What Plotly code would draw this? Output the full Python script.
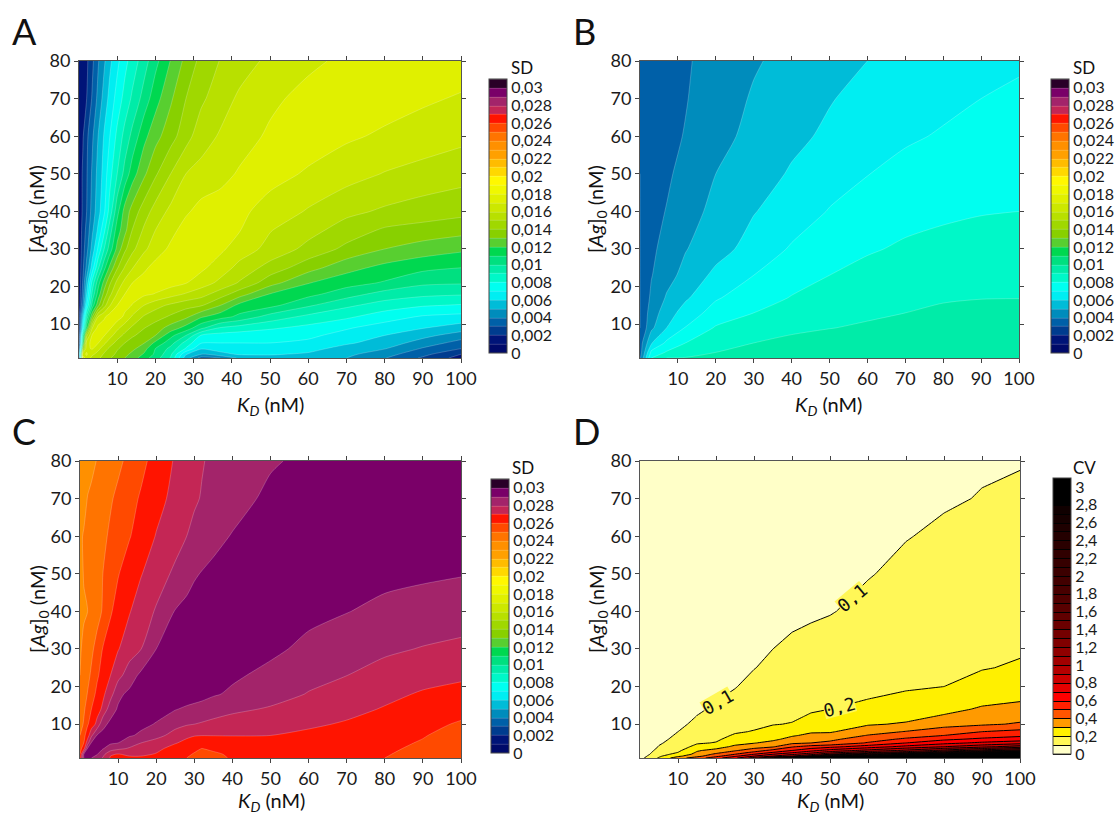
import plotly.graph_objects as go

W, H = 1115, 816
FONT = "Lato"

# ---- shared band palettes (one colour per band, bottom to top) ----
SD_COLORS = ["#000a6a", "#001478", "#003c8f", "#0060a8", "#008cbc", "#00bcd8", "#00eef2", "#00fff0",
             "#00f8c8", "#00eca8", "#00e080", "#00d850", "#58cf30", "#88d000", "#a0d800", "#b8e000",
             "#cce800", "#e0f000", "#f0f800", "#fff800", "#ffd800", "#ffbc00", "#ffa000", "#ff9000",
             "#ff7400", "#ff4a00", "#ff1400", "#c42655", "#a3246a", "#7a0068", "#2a0028"]
CV_COLORS = ["#ffffc8", "#fff757", "#fff000", "#ff9a00", "#ff5500", "#ff2000", "#ff0000", "#e60000",
             "#cc0000", "#b40000", "#a20000", "#900000", "#800000", "#740000", "#6a0000", "#600000",
             "#580000", "#500000", "#480000", "#420000", "#3c0000", "#360000", "#300000", "#2a0000",
             "#240000", "#1e0000", "#160000", "#100000", "#000000", "#000000", "#000000"]

SD_TICKS = [0, 2, 4, 6, 8, 10, 12, 14, 16, 18, 20, 22, 24, 26, 28, 30]
SD_LABELS = ["0", "0,002", "0,004", "0,006", "0,008", "0,01", "0,012", "0,014", "0,016", "0,018",
             "0,02", "0,022", "0,024", "0,026", "0,028", "0,03"]
CV_TICKS = [0, 0.2, 0.4, 0.6, 0.8, 1, 1.2, 1.4, 1.6, 1.8, 2, 2.2, 2.4, 2.6, 2.8, 3]
CV_LABELS = ["0", "0,2", "0,4", "0,6", "0,8", "1", "1,2", "1,4", "1,6", "1,8", "2", "2,2", "2,4", "2,6", "2,8", "3"]
X_TICKS = [10, 20, 30, 40, 50, 60, 70, 80, 90, 100]
Y_TICKS = [10, 20, 30, 40, 50, 60, 70, 80]

# ---- panel A: SD (in units of 0.001) ----
KD_A = [0, 1, 2, 3.5, 5, 6.5, 8, 10, 12, 14, 17, 20, 24, 28, 32, 37, 42, 50, 60, 70, 80, 90, 100]
AG_A = [1, 2, 3.5, 5, 7, 9, 12, 15, 18, 21, 25, 30, 35, 40, 50, 60, 70, 80]
SD_A = [
    [2, 17.3, 16.8, 15.6, 15.2, 14.65, 14.1, 13.5, 13, 12.5, 11.4, 10.5, 8.9, 5.45, 3.6, 4, 5.2, 5.6, 5.4, 5, 4.05, 2.85, 1.6],
    [4, 16.7, 17.1, 16.2, 15.6, 14.9, 14.4, 13.8, 13.3, 12.7, 11.9, 10.8, 9.2, 6.1, 4.95, 5.7, 6.1, 6.1, 5.85, 5.25, 4.4, 3.3, 2],
    [2.5, 13.5, 16.8, 17.1, 16.3, 15.5, 14.8, 14.1, 13.65, 13.25, 12.4, 11, 9.7, 7.9, 6.1, 6.4, 6.5, 6.55, 6.35, 5.6, 5.05, 3.9, 3],
    [1.9, 11, 16.5, 17.4, 17.05, 16.25, 15.5, 14.65, 14, 13.5, 13.05, 11.75, 10.4, 8.6, 7.05, 7, 7, 7, 6.8, 6.15, 5.55, 4.55, 3.6],
    [1.8, 9.5, 14.8, 17.2, 17.4, 17.1, 16.4, 15.45, 14.75, 14.15, 13.55, 13, 11.3, 10, 7.9, 7.6, 7.5, 7.35, 7.2, 6.65, 6, 5.3, 4.5],
    [1.7, 7, 11.5, 16, 17.3, 17.5, 17.2, 16.25, 15.45, 14.8, 14.05, 13.5, 12.6, 11.6, 10.25, 8.9, 8.55, 8.15, 7.7, 7.1, 6.55, 6.05, 5.5],
    [1.7, 5.6, 9.25, 13, 16.05, 16.8, 17.4, 17.5, 16.8, 15.85, 14.9, 14.45, 13.85, 13.25, 12.15, 11.45, 10.75, 9.6, 8.75, 8.2, 7.45, 6.9, 6.7],
    [1.3, 4, 7, 10.45, 12.7, 14.5, 15.9, 17, 17.3, 16.95, 16, 15.35, 14.8, 14.35, 14.1, 13, 11.7, 11.3, 10.15, 9.2, 8.55, 8.1, 7.9],
    [1.3, 3.4, 6, 9.3, 11.4, 13.3, 14.7, 16.1, 17, 17.3, 17.2, 16.95, 16.4, 15.9, 15.4, 14.5, 13.45, 11.95, 11.3, 10.45, 9.6, 9.25, 9.1],
    [1.3, 3.1, 5.35, 8.4, 10.55, 12.3, 13.8, 15.3, 16.3, 17, 17.4, 17.5, 17.4, 17.05, 16.5, 15.75, 14.9, 13.4, 12.05, 11.4, 10.9, 10.2, 10.1],
    [1.3, 2.75, 4.3, 6.55, 8.8, 10.6, 12.2, 13.9, 15.1, 15.95, 16.8, 17.35, 17.6, 17.55, 17.2, 16.5, 15.7, 14.6, 13.4, 12.35, 11.7, 11.25, 11],
    [1.2, 2.55, 3.65, 5.45, 7.15, 8.9, 10.4, 12.3, 13.8, 14.75, 15.8, 16.5, 17.2, 17.6, 17.5, 17.2, 16.5, 15.7, 14.7, 13.75, 13, 12.55, 12.2],
    [1.2, 2.4, 3.3, 4.85, 6.2, 7.65, 9.45, 11.5, 12.7, 14.05, 15.15, 16, 16.7, 17.4, 17.5, 17.4, 17.05, 16.05, 15.35, 14.55, 13.85, 13.6, 13.35],
    [1.2, 2.2, 3, 4.45, 5.6, 6.75, 8.35, 10.65, 12.4, 13.4, 14.5, 15.4, 16.25, 16.85, 17.35, 17.45, 17.2, 16.65, 15.9, 15.25, 14.85, 14.55, 14.3],
    [1.3, 2.15, 2.9, 4.2, 5.35, 6.35, 7.6, 9, 10.35, 11.55, 12.8, 13.85, 15, 16, 16.3, 16.7, 17.1, 17.3, 16.9, 16.4, 15.95, 15.65, 15.4],
    [1.3, 1.9, 2.75, 3.85, 5, 6.05, 6.95, 8.25, 9.35, 10.3, 11.7, 12.65, 13.6, 14.6, 15.6, 16.1, 16.6, 17.15, 17.4, 17.15, 16.85, 16.55, 16.25],
    [1.3, 1.6, 2, 3.15, 4.3, 5.35, 6.3, 7.4, 8.35, 9.2, 10.4, 11.6, 12.85, 14, 14.8, 15.6, 16.15, 16.8, 17.3, 17.5, 17.4, 17.15, 16.9],
    [1.5, 1.7, 1.8, 2.8, 3.9, 4.8, 5.75, 6.75, 7.7, 8.45, 9.55, 10.7, 12.05, 13.3, 14.3, 15.05, 15.6, 16.2, 16.8, 17.2, 17.4, 17.5, 17.5],
]

# ---- panel B: SD (in units of 0.001) ----
KD_B = [0, 3, 7, 12, 20, 30, 40, 50, 60, 70, 80, 90, 100]
AG_B = [1, 2.5, 5, 9, 13, 17, 23, 30, 40, 50, 60, 70, 80]
SD_B = [
    [3.8, 8, 9, 9.05, 9.4, 9.5, 9.6, 9.7, 9.75, 9.8, 9.8, 9.8, 9.8],
    [3.5, 7.25, 8.1, 8.6, 9, 9.25, 9.4, 9.5, 9.6, 9.65, 9.65, 9.7, 9.7],
    [3.5, 5.9, 7.2, 8, 8.65, 9, 9.25, 9.35, 9.45, 9.5, 9.55, 9.55, 9.55],
    [3, 4.8, 6, 7.05, 8.1, 8.5, 8.8, 8.98, 9.1, 9.2, 9.3, 9.35, 9.35],
    [3, 4.5, 5.5, 6.45, 7.4, 8, 8.35, 8.65, 8.88, 9, 9.15, 9.2, 9.2],
    [3, 4.2, 5.1, 5.85, 6.9, 7.55, 8.05, 8.4, 8.65, 8.8, 8.92, 8.98, 8.99],
    [3, 3.95, 4.65, 5.3, 6.25, 7, 7.6, 8, 8.3, 8.5, 8.62, 8.7, 8.73],
    [3, 3.8, 4.35, 4.95, 5.6, 6.4, 7.1, 7.6, 7.9, 8.13, 8.28, 8.38, 8.43],
    [3, 3.6, 4.05, 4.55, 5.3, 5.95, 6.5, 7.05, 7.5, 7.7, 7.84, 7.95, 8],
    [3, 3.5, 3.8, 4.4, 5, 5.6, 6.09, 6.6, 6.97, 7.33, 7.55, 7.7, 7.85],
    [3.1, 3.4, 3.75, 4.05, 4.65, 5.3, 5.8, 6.15, 6.45, 6.85, 7.1, 7.25, 7.4],
    [3.1, 3.35, 3.7, 3.95, 4.5, 5.1, 5.55, 5.95, 6.25, 6.5, 6.75, 7, 7.2],
    [3.2, 3.4, 3.7, 3.9, 4.35, 4.9, 5.3, 5.65, 6, 6.25, 6.5, 6.7, 6.85],
]

# ---- panel C: SD (in units of 0.001) ----
KD_C = [0, 1, 2, 3, 4.5, 6, 8, 10, 13, 16, 20, 25, 28, 30, 32, 35, 40, 50, 60, 70, 80, 90, 100]
AG_C = [1, 2, 3.5, 5, 7, 10, 14, 18, 23, 30, 40, 50, 60, 70, 80]
SD_C = [
    [26.5, 29, 29.1, 29, 28.55, 27.9, 26.9, 26.8, 26.85, 26.85, 26.7, 26.3, 26, 25.9, 25.8, 25.85, 26.05, 26.15, 26.15, 26.1, 26, 25.65, 25.2],
    [26, 29, 29.15, 29.1, 29.05, 28.35, 27.1, 26.95, 27.15, 27.15, 26.95, 26.5, 26.2, 25.9, 25.75, 25.8, 26.2, 26.3, 26.3, 26.2, 26.06, 25.72, 25.25],
    [25.6, 26.6, 29.1, 29.2, 29.15, 29.05, 28.6, 28.2, 27.9, 27.6, 27.2, 26.7, 26.4, 26.25, 25.98, 26.2, 26.45, 26.5, 26.45, 26.3, 26.15, 25.82, 25.35],
    [25.3, 26, 27.6, 29.1, 29.2, 29.2, 29.1, 29, 28.4, 28, 27.55, 27.05, 26.8, 26.55, 26.3, 26.55, 26.72, 26.7, 26.6, 26.4, 26.25, 25.92, 25.5],
    [25, 25.7, 26.55, 27.8, 29.1, 29.25, 29.3, 29.3, 29.1, 28.85, 28.35, 27.6, 27.15, 27.05, 27.02, 27.02, 27.02, 27, 26.8, 26.62, 26.43, 26.06, 25.6],
    [24.6, 25.1, 25.9, 26.45, 27.3, 28.75, 29.2, 29.35, 29.35, 29.2, 28.95, 28.33, 28.1, 28, 27.9, 27.75, 27.56, 27.37, 27.15, 26.9, 26.65, 26.25, 25.9],
    [24.3, 24.85, 25.4, 26, 26.6, 27.2, 28.6, 29.1, 29.3, 29.4, 29.3, 29.05, 28.85, 28.75, 28.65, 28.45, 28.2, 27.9, 27.55, 27.27, 26.93, 26.6, 26.3],
    [24.2, 24.6, 25.05, 25.55, 26.25, 26.8, 27.6, 28.8, 29.2, 29.4, 29.55, 29.55, 29.5, 29.4, 29.3, 29.1, 28.85, 28.4, 27.95, 27.55, 27.24, 26.9, 26.7],
    [24, 24.3, 24.75, 25.15, 25.85, 26.4, 27, 27.65, 28.55, 29.2, 29.45, 29.55, 29.6, 29.6, 29.55, 29.5, 29.15, 28.75, 28.29, 28.01, 27.65, 27.35, 27.16],
    [23.9, 24.2, 24.5, 24.8, 25.35, 26.05, 26.45, 26.95, 27.5, 27.98, 29, 29.3, 29.45, 29.5, 29.5, 29.55, 29.55, 29.2, 28.77, 28.44, 28.16, 27.95, 27.79],
    [23.8, 23.9, 24, 24.3, 24.65, 25.1, 25.9, 26.35, 26.95, 27.45, 28.1, 29.05, 29.25, 29.4, 29.45, 29.55, 29.6, 29.55, 29.25, 29.03, 28.77, 28.6, 28.47],
    [23.7, 24.05, 24.25, 24.45, 24.7, 25, 25.45, 25.95, 26.45, 26.95, 27.5, 28.2, 28.65, 28.9, 29.05, 29.2, 29.4, 29.6, 29.55, 29.35, 29.25, 29.15, 29.05],
    [23.8, 24.1, 24.3, 24.4, 24.6, 24.8, 25.15, 25.55, 25.95, 26.4, 27.05, 27.6, 28, 28.2, 28.45, 28.75, 29.05, 29.4, 29.6, 29.6, 29.6, 29.55, 29.5],
    [23.5, 23.6, 24.05, 24.2, 24.4, 24.6, 24.9, 25.2, 25.7, 26.1, 26.65, 27.3, 27.65, 27.9, 28.05, 28.25, 28.65, 29.2, 29.5, 29.6, 29.65, 29.65, 29.65],
    [23.1, 23.3, 23.5, 23.75, 24.05, 24.25, 24.5, 24.8, 25.25, 25.75, 26.35, 27.1, 27.45, 27.7, 27.95, 28.15, 28.4, 28.9, 29.2, 29.4, 29.5, 29.55, 29.6],
]

# ---- panel D: CV, one list per KD column ----
KD_D = [0, 2, 5, 10, 15, 20, 25, 30, 35, 40, 45, 50, 60, 70, 80, 90, 100]
AG_D = [1, 1.5, 2, 2.5, 3, 4, 5, 6, 7, 8, 10, 12, 14, 16, 20, 25, 30, 40, 50, 60, 70, 80]
CV_KD0 = [.05, .045, .04, .035, .03, .025, .02, .018, .015, .012, .01, .008, .007, .006, .005, .004, .003, .003, .002, .002, .002, .001]
CV_KD2 = [.14, .105, .085, .075, .065, .05, .04, .035, .03, .027, .022, .018, .016, .014, .011, .009, .008, .006, .005, .004, .0035, .003]
CV_KD5 = [.21, .185, .16, .145, .13, .105, .09, .08, .07, .06, .05, .042, .036, .032, .026, .021, .018, .014, .011, .009, .008, .007]
CV_KD10 = [.36, .28, .23, .2, .18, .15, .135, .12, .11, .1, .085, .072, .063, .056, .047, .038, .032, .025, .02, .017, .015, .013]
CV_KD15 = [.45, .37, .33, .31, .29, .23, .19, .165, .15, .135, .115, .102, .09, .08, .066, .055, .046, .035, .028, .024, .021, .018]
CV_KD20 = [.56, .47, .42, .37, .33, .26, .205, .185, .17, .155, .135, .12, .11, .1, .082, .068, .058, .045, .036, .03, .026, .023]
CV_KD25 = [.68, .58, .5, .44, .39, .32, .27, .235, .21, .19, .165, .145, .13, .118, .097, .08, .07, .055, .045, .037, .032, .028]
CV_KD30 = [.85, .7, .6, .52, .45, .36, .295, .26, .235, .205, .18, .165, .15, .14, .12, .098, .085, .065, .052, .044, .038, .033]
CV_KD35 = [1.05, .8, .7, .6, .53, .39, .33, .28, .26, .24, .195, .18, .17, .16, .135, .115, .1, .078, .062, .052, .045, .04]
CV_KD40 = [1.25, .9, .78, .68, .6, .49, .38, .33, .29, .26, .205, .185, .175, .165, .15, .13, .112, .085, .072, .06, .052, .046]
CV_KD45 = [1.7, 1.05, .86, .76, .67, .54, .4, .36, .32, .29, .24, .21, .19, .175, .155, .135, .118, .092, .078, .066, .057, .05]
CV_KD50 = [2.0, 1.3, 1.0, .85, .74, .57, .42, .38, .33, .29, .25, .22, .2, .185, .165, .145, .125, .097, .085, .072, .062, .055]
CV_KD60 = [2.6, 1.5, 1.2, .97, .83, .65, .51, .45, .405, .36, .29, .255, .225, .205, .175, .155, .14, .115, .097, .085, .073, .065]
CV_KD70 = [3.1, 1.8, 1.4, 1.05, .92, .73, .6, .52, .45, .405, .31, .275, .245, .225, .19, .17, .155, .13, .112, .098, .085, .075]
CV_KD80 = [3.3, 2.2, 1.6, 1.25, 1.03, .8, .67, .58, .5, .45, .365, .31, .275, .25, .2, .18, .165, .145, .125, .108, .095, .085]
CV_KD90 = [3.3, 2.6, 1.9, 1.45, 1.15, .87, .72, .62, .55, .5, .385, .345, .31, .285, .235, .195, .175, .155, .135, .12, .102, .095]
CV_KD100 = [3.3, 2.8, 2.1, 1.6, 1.25, .95, .76, .65, .58, .53, .41, .37, .33, .3, .26, .21, .19, .165, .15, .135, .115, .095]
CV_COLS = [CV_KD0, CV_KD2, CV_KD5, CV_KD10, CV_KD15, CV_KD20, CV_KD25, CV_KD30, CV_KD35, CV_KD40,
           CV_KD45, CV_KD50, CV_KD60, CV_KD70, CV_KD80, CV_KD90, CV_KD100]
CV_D = [list(row) for row in zip(*CV_COLS)]


def steps(colors):
    n = len(colors)
    out = []
    for i, c in enumerate(colors):
        out += [[i / n, c], [(i + 1) / n, c]]
    return out


# pixel boxes: plot (left, right, top, bottom), colour bar (left, top, length)
PANELS = [
    dict(x=KD_A, y=AG_A, z=SD_A, box=(79, 461, 61, 358), bar=(489, 79, 274), kind="SD", sx="x", sy="y"),
    dict(x=KD_B, y=AG_B, z=SD_B, box=(640, 1019, 61, 358), bar=(1051, 79, 274), kind="SD", sx="x2", sy="y2"),
    dict(x=KD_C, y=AG_C, z=SD_C, box=(80, 461, 461, 758), bar=(491, 479, 274), kind="SD", sx="x3", sy="y3"),
    dict(x=KD_D, y=AG_D, z=CV_D, box=(640, 1020, 461, 758), bar=(1053, 478, 276), kind="CV", sx="x4", sy="y4"),
]

fig = go.Figure()
layout = dict(
    width=W, height=H, margin=dict(l=0, r=0, t=0, b=0, pad=0, autoexpand=False),
    paper_bgcolor="white", plot_bgcolor="white", showlegend=False,
    font=dict(family=FONT, size=18, color="#1a1a1a"),
    annotations=[],
)
for i, p in enumerate(PANELS):
    l, r, t, b = p["box"]
    suffix = "" if i == 0 else str(i + 1)
    axis = dict(showline=True, linecolor="#555555", linewidth=1, mirror="ticks", ticks="outside",
                ticklen=4, tickcolor="#444444", tickwidth=1, showgrid=False, zeroline=False,
                tickfont=dict(family=FONT, size=18, color="#1a1a1a"), tickmode="array")
    layout["xaxis" + suffix] = dict(
        axis, domain=[l / W, r / W], range=[0, 100], anchor="y" + suffix,
        tickvals=X_TICKS, ticktext=[str(v) for v in X_TICKS])
    layout["yaxis" + suffix] = dict(
        axis, domain=[1 - b / H, 1 - t / H], range=[1, 80], anchor="x" + suffix,
        tickvals=Y_TICKS, ticktext=[str(v) for v in Y_TICKS])
    is_cv = p["kind"] == "CV"
    bl, bt, blen = p["bar"]
    fig.add_trace(go.Contour(
        x=p["x"], y=p["y"], z=p["z"], xaxis=p["sx"], yaxis=p["sy"],
        colorscale=steps(CV_COLORS if is_cv else SD_COLORS),
        zmin=0, zmax=3.1 if is_cv else 31, zauto=False,
        autocontour=False,
        contours=dict(start=0, end=3.1 if is_cv else 31, size=0.1 if is_cv else 1, coloring="fill", showlabels=False),
        line=dict(color="#000000" if is_cv else "rgba(255,255,255,0.35)", width=1 if is_cv else 0.6,
                  smoothing=0 if is_cv else 0.7),
        colorbar=dict(
            x=bl / W, xanchor="left", y=1 - bt / H, yanchor="top", len=blen, lenmode="pixels",
            thickness=18, thicknessmode="pixels", xpad=0, ypad=0, outlinecolor="#444444", outlinewidth=1,
            tickmode="array", tickvals=CV_TICKS if is_cv else SD_TICKS, ticktext=CV_LABELS if is_cv else SD_LABELS,
            ticks="", ticklen=2, tickfont=dict(family=FONT, size=16, color="#1a1a1a"), borderwidth=0),
    ))


def note(text, px, py, size, angle=0):
    layout["annotations"].append(dict(
        text=text, x=px / W, y=1 - py / H, xref="paper", yref="paper", showarrow=False,
        xanchor="center", yanchor="middle", textangle=angle,
        font=dict(family=FONT, size=size, color="#111111")))


note("A", 24, 31, 36)
note("B", 584, 31, 36)
note("C", 24, 431, 36)
note("D", 586, 431, 36)
note("SD", 522, 67, 17)
note("SD", 1084, 67, 17)
note("SD", 523, 467, 17)
note("CV", 1084, 467, 17)

KD_TITLE = "<i>K</i><sub><i>D</i></sub> (nM)"
AG_TITLE = "[<i>Ag</i>]<sub>0</sub> (nM)"
for px, py in [(270, 405), (829, 405), (271, 801), (830, 801)]:
    note(KD_TITLE, px, py, 20)
for px, py in [(38, 209), (597, 209), (38, 609), (597, 609)]:
    note(AG_TITLE, px, py, 20, angle=-90)

# inline contour labels of panel D
LABELS_D = [("0,1", 20.4, 16, -30), ("0,1", 55.8, 43.5, -40), ("0,2", 52.5, 14.5, -15)]
for txt, kx, ay, ang in LABELS_D:
    layout["annotations"].append(dict(
        text=txt, x=kx, y=ay, xref="x4", yref="y4", showarrow=False, textangle=ang, bgcolor="#fff757",
        borderpad=0, width=31, height=16, xanchor="center", yanchor="middle",
        font=dict(family="DejaVu Sans Mono", size=18, color="#111111")))

fig.update_layout(**layout)
fig.write_html("out.html", post_script="document.body.style.margin='0';",
               config=dict(displayModeBar=False))
